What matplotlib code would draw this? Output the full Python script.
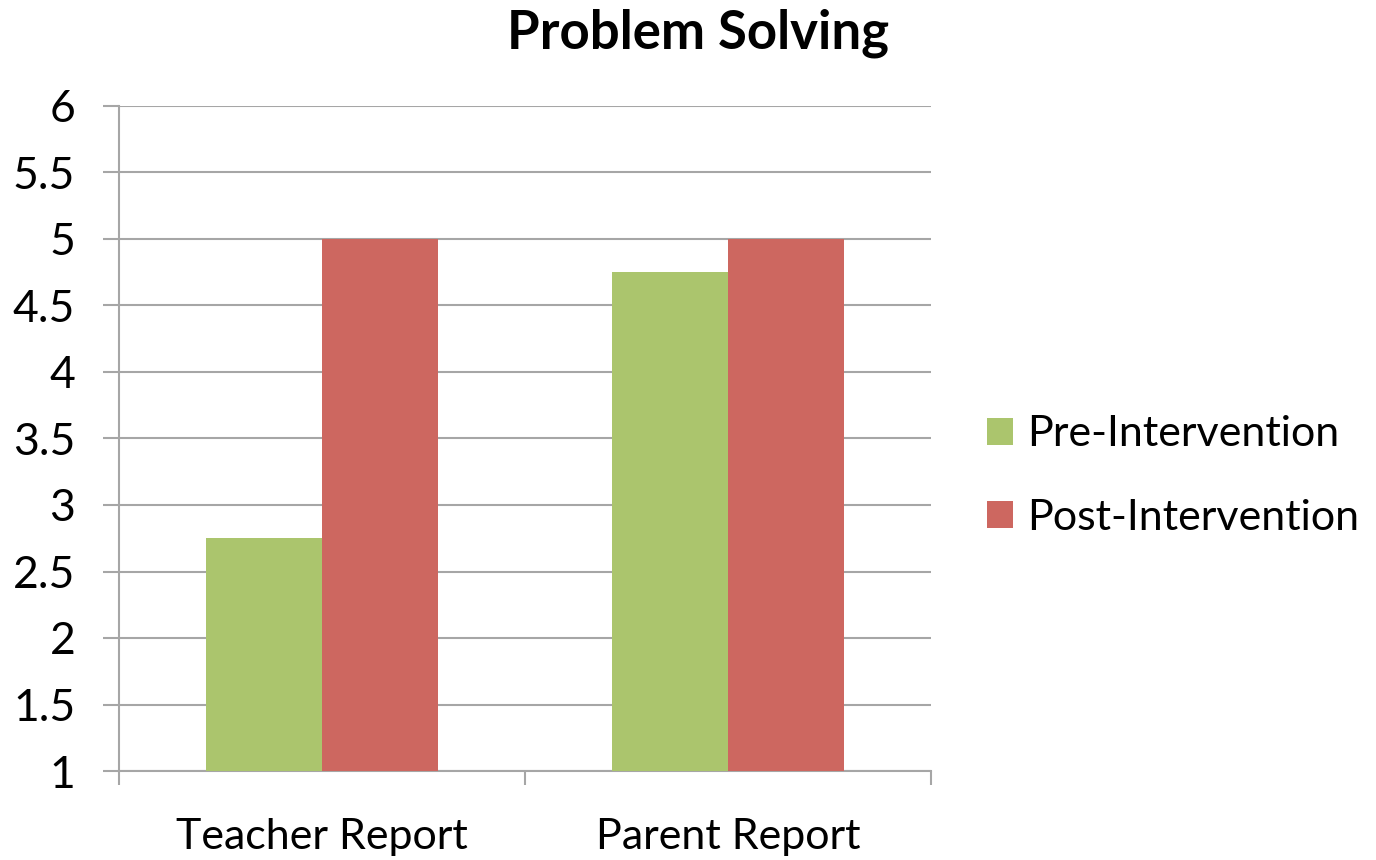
import matplotlib
matplotlib.use("Agg")
import matplotlib.pyplot as plt
import numpy as np

categories = ["Teacher Report", "Parent Report"]
series_names = ["Pre-Intervention", "Post-Intervention"]
pre_values = [2.75, 4.75]
post_values = [5.0, 5.0]
y_ticks = [1, 1.5, 2, 2.5, 3, 3.5, 4, 4.5, 5, 5.5, 6]
y_tick_labels = ["1", "1.5", "2", "2.5", "3", "3.5", "4", "4.5", "5", "5.5", "6"]

colors = ["#ABC56D", "#CD6760"]
grid_color = "#A6A6A6"

plt.rcParams["font.family"] = ["Lato", "DejaVu Sans"]

fig = plt.figure(figsize=(13.76, 8.6), dpi=100)
ax = fig.add_axes([119 / 1376, 1 - 771 / 860, (931 - 119) / 1376, (771 - 106) / 860])

x = np.arange(len(categories))
width = 1 / 3.5
ax.bar(x - width / 2, pre_values, width, bottom=0, color=colors[0], label=series_names[0], zorder=3)
ax.bar(x + width / 2, post_values, width, bottom=0, color=colors[1], label=series_names[1], zorder=3)

ax.set_xlim(-0.5, len(categories) - 0.5)
ax.set_ylim(1, 6)
ax.set_yticks(y_ticks)
ax.set_yticklabels(y_tick_labels, fontsize=32)
ax.yaxis.grid(True, color=grid_color, linewidth=1.5, zorder=0)
ax.set_axisbelow(True)

# category labels centred, tick marks on category boundaries
ax.set_xticks(x)
ax.set_xticklabels(categories, fontsize=31)
ax.tick_params(axis="x", length=0, pad=34)
ax.set_xticks(np.arange(-0.5, len(categories)), minor=True)
ax.tick_params(axis="x", which="minor", length=10, width=1.5, color=grid_color)
ax.tick_params(axis="y", length=11.5, width=1.5, color=grid_color, pad=20)

for side in ["top", "right"]:
    ax.spines[side].set_visible(False)
for side in ["left", "bottom"]:
    ax.spines[side].set_color(grid_color)
    ax.spines[side].set_linewidth(1.5)

fig.text(698 / 1376, 1 - 33 / 860, "Problem Solving", ha="center", va="center",
         fontsize=38, fontweight="bold")

leg = fig.legend(loc="center left", bbox_to_anchor=(987 / 1376, 1 - 476 / 860), frameon=False,
                 fontsize=31, handlelength=0.6, handleheight=0.6,
                 handletextpad=0.33, labelspacing=1.05, borderaxespad=0, borderpad=0)

fig.savefig("out.png", dpi=100)
